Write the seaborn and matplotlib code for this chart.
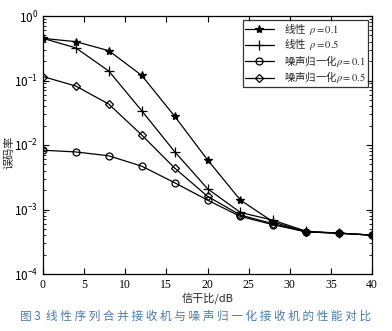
import numpy as np
import pandas as pd
import matplotlib
matplotlib.use("Agg")
import matplotlib.pyplot as plt
import seaborn as sns

snr = [0, 4, 8, 12, 16, 20, 24, 28, 32, 36, 40]
lin_01 = [0.45, 0.40, 0.29, 0.12, 0.028, 0.0059, 0.0014, 0.00064, 0.00045, 0.00043, 0.00040]
lin_05 = [0.45, 0.32, 0.14, 0.034, 0.0079, 0.0021, 0.00090, 0.00068, 0.00046, 0.00043, 0.00040]
nn_01 = [0.0083, 0.0078, 0.0068, 0.0047, 0.0026, 0.0014, 0.00078, 0.00058, 0.00045, 0.00043, 0.00040]
nn_05 = [0.115, 0.082, 0.043, 0.0143, 0.0044, 0.0016, 0.00082, 0.00060, 0.00045, 0.00043, 0.00040]
labels = ["线性  $\\rho=0.1$", "线性  $\\rho=0.5$", "噪声归一化$\\rho=0.1$", "噪声归一化$\\rho=0.5$"]
xticks = [0, 5, 10, 15, 20, 25, 30, 35, 40]
xlabel = "信干比/dB"
ylabel = "误码率"
caption = "图 3  线 性 序 列 合 并 接 收 机 与 噪 声 归 一 化 接 收 机 的 性 能 对 比"

sns.set_theme(style="ticks")
plt.rcParams['font.family'] = ['Noto Sans CJK SC', 'DejaVu Sans']
plt.rcParams['mathtext.fontset'] = 'stix'

fig = plt.figure(figsize=(3.92, 3.31), dpi=100)
ax = fig.add_axes([43/392, 1-274/331, (372-43)/392, (274-16)/331])

series = [lin_01, lin_05, nn_01, nn_05]
markers = ['*', '+', 'o', 'D']
msizes = [6, 7, 5, 4.5]
fills = ['black', 'black', 'none', 'none']
for vals, lab, m, ms, fc in zip(series, labels, markers, msizes, fills):
    df = pd.DataFrame({"snr": snr, "ber": vals})
    sns.lineplot(data=df, x="snr", y="ber", ax=ax, color='black', linewidth=0.9,
                 marker=m, markersize=ms, markerfacecolor=fc, markeredgecolor='black',
                 markeredgewidth=0.9, label=lab)

ax.set_yscale('log')
ax.set_ylim(1e-4, 1)
ax.set_xlim(0, 40)
ax.set_xticks(xticks)
ax.set_xticklabels([str(t) for t in xticks], family='Liberation Serif', fontsize=8.5)
for t in ax.get_yticklabels():
    t.set_fontsize(8.5)
ax.tick_params(axis='both', which='both', direction='in', top=True, right=True, colors='black')
ax.tick_params(which='major', length=4, width=0.8)
ax.tick_params(which='minor', length=2, width=0.6)
for s in ax.spines.values():
    s.set_color('black')
    s.set_linewidth(0.9)
ax.set_xlabel(xlabel, fontsize=8, labelpad=1)
ax.set_ylabel(ylabel, fontsize=8)
ax.yaxis.set_label_coords(-(43 - 15) / 329, 0.47)

leg = ax.legend(loc='upper right', fontsize=7.5, frameon=True, fancybox=False,
                edgecolor='black', handlelength=2.8, borderaxespad=0.4,
                labelspacing=0.05, borderpad=0.15, handletextpad=1.0)
leg.get_frame().set_linewidth(0.9)

fig.text(0.5, 1-316/331, caption, ha='center', va='center', fontsize=8.4, color='#4a7ab0')

fig.savefig("out.png", dpi=100)
